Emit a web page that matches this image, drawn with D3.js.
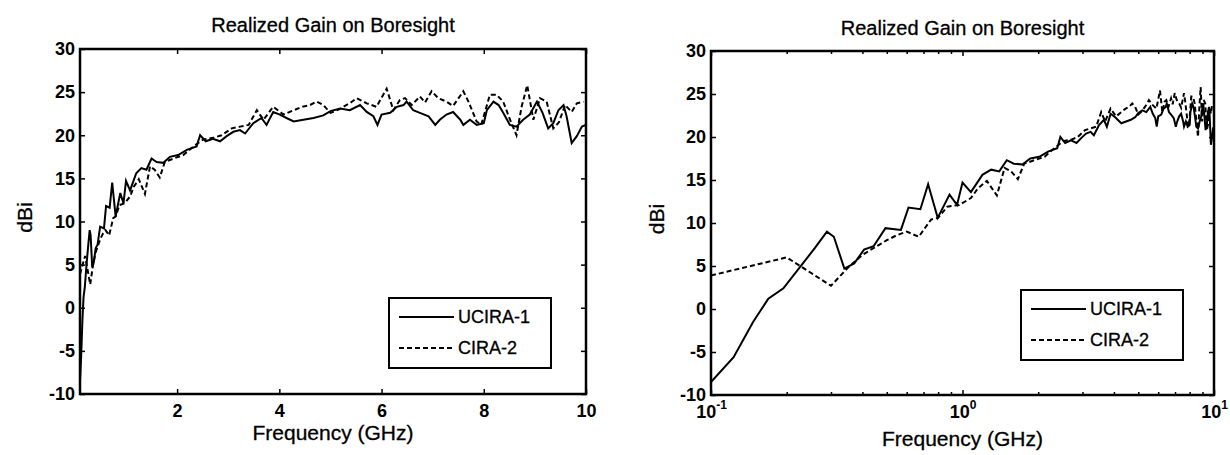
<!DOCTYPE html>
<html>
<head>
<meta charset="utf-8">
<script src="https://cdn.jsdelivr.net/npm/d3@7"></script>
<style>
    body { margin: 0; background: #fff; }
    svg { display: block; }
    text { font-family: "Liberation Sans", Arial, Helvetica, sans-serif; fill: #000; stroke: #000; stroke-width: 0.3px; }
    .tick text { font-size: 18px; font-weight: bold; stroke-width: 0; }
    .tick line { stroke: #000; stroke-width: 1.5; }
</style>
</head>
<body>
<div id="graph"></div>
<script>
// UCIRA-1 (solid)
const freqUcira = [0.1, 0.123, 0.147, 0.169, 0.194, 0.229, 0.259, 0.289, 0.308, 0.339, 0.371, 0.406, 0.443, 0.494, 0.569,
    0.61, 0.68, 0.73, 0.797, 0.888, 0.951, 1.0, 1.08, 1.2, 1.3, 1.4, 1.5, 1.6, 1.73, 1.86, 2.02, 2.19, 2.38, 2.45, 2.56,
    2.7, 2.84, 2.97, 3.1, 3.23, 3.33, 3.49, 3.65, 3.75, 3.88, 4.01, 4.14, 4.28, 4.47, 4.67, 4.86, 5.0, 5.19, 5.38, 5.58,
    5.71, 5.84, 5.92, 6.0, 6.17, 6.3, 6.43, 6.49, 6.62, 6.75, 6.92, 7.05, 7.14, 7.27, 7.4, 7.54, 7.6, 7.73, 7.86, 8.0,
    8.06, 8.19, 8.29, 8.38, 8.51, 8.64, 8.77, 8.9, 9.04, 9.15, 9.26, 9.36, 9.46, 9.56, 9.62, 9.72, 9.82, 9.92, 10.0];
const gainUcira = [-8.5, -5.6, -1.5, 1.2, 2.4, 5.1, 7.1, 9.0, 8.4, 4.7, 5.3, 6.9, 7.3, 9.4, 9.2,
    11.8, 11.6, 14.5, 10.6, 13.3, 12.1, 14.7, 13.6, 15.6, 16.2, 16.0, 17.3, 16.9, 16.8, 17.5, 17.7, 18.3, 18.7, 20.0, 19.3,
    19.6, 19.3, 19.9, 20.4, 20.6, 20.2, 21.4, 22.0, 21.2, 22.7, 22.4, 22.0, 21.6, 21.8, 22.0, 22.3, 22.8, 23.1, 22.9, 23.5,
    22.7, 22.2, 21.2, 22.4, 22.6, 23.3, 23.5, 23.9, 22.9, 22.6, 22.2, 21.2, 21.8, 22.4, 22.7, 21.8, 21.2, 21.8, 21.2, 21.4,
    22.9, 23.9, 23.5, 22.6, 21.2, 21.0, 21.8, 22.4, 23.9, 22.6, 20.8, 21.4, 22.9, 23.5, 22.2, 19.1, 19.9, 21.0, 21.2];

// CIRA-2 (dashed)
const freqCira = [0.1, 0.2, 0.3, 0.35, 0.4, 0.45, 0.5, 0.55, 0.6, 0.67, 0.75, 0.8, 0.87, 0.97, 1.08, 1.15, 1.25, 1.37,
    1.47, 1.56, 1.66, 1.76, 1.93, 2.12, 2.32, 2.51, 2.71, 2.87, 3.07, 3.23, 3.4, 3.56, 3.69, 3.88, 4.08, 4.28, 4.45, 4.6,
    4.73, 4.86, 5.0, 5.17, 5.4, 5.51, 5.71, 5.9, 6.1, 6.23, 6.36, 6.46, 6.59, 6.75, 6.85, 6.98, 7.11, 7.27, 7.4, 7.6, 7.7,
    7.86, 7.95, 8.12, 8.25, 8.38, 8.5, 8.64, 8.74, 8.85, 8.97, 9.1, 9.23, 9.36, 9.47, 9.59, 9.72, 9.82, 9.95];
const gainCira = [3.9, 6.0, 2.7, 4.8, 6.3, 7.2, 8.0, 8.6, 9.0, 8.4, 10.4, 10.6, 11.9, 12.1, 12.9, 14.0, 14.9, 13.2,
    16.4, 16.0, 15.1, 16.9, 17.3, 17.7, 18.7, 19.5, 19.7, 20.0, 20.8, 21.0, 21.2, 22.9, 21.8, 23.3, 22.4, 22.9, 23.3, 23.5,
    23.9, 23.5, 22.6, 23.0, 23.8, 24.3, 23.7, 23.3, 25.4, 22.9, 24.1, 24.3, 23.5, 24.5, 23.8, 25.1, 24.3, 23.9, 23.4, 25.1, 23.9,
    21.6, 21.2, 24.7, 24.7, 23.9, 22.0, 20.0, 23.3, 25.8, 21.8, 24.3, 23.9, 20.8, 21.5, 23.5, 22.7, 23.7, 23.9];

const seriesNames = ["UCIRA-1", "CIRA-2"];
const yTicks = [-10, -5, 0, 5, 10, 15, 20, 25, 30];
const xTicksLin = [2, 4, 6, 8, 10];
const xTicksLog = [0.1, 1, 10];
const xMinorLog = [0.2, 0.3, 0.4, 0.5, 0.6, 0.7, 0.8, 0.9, 2, 3, 4, 5, 6, 7, 8, 9];

let CANVAS_WIDTH = 1230,
    CANVAS_HEIGHT = 455,
    TICK_LEN = 5,
    DASH = "5,3";

let vis = d3.select("#graph").append("svg")
    .attr("width", CANVAS_WIDTH)
    .attr("height", CANVAS_HEIGHT);

let series = [
    {name: seriesNames[0], pts: freqUcira.map((f, i) => [f, gainUcira[i]]), dash: null},
    {name: seriesNames[1], pts: freqCira.map((f, i) => [f, gainCira[i]]), dash: DASH}
];

// plain hyphen for negatives, like the original
const fmtInt = d => String(d);

function drawPanel(p) {
    let g = vis.append("g").attr("transform", `translate(${p.left},${p.top})`);

    let x = p.log
        ? d3.scaleLog().domain([0.1, 10]).range([0, p.w])
        : d3.scaleLinear().domain([0.1, 10]).range([0, p.w]);
    let y = d3.scaleLinear().domain([-10, 30]).range([p.h, 0]);

    g.append("clipPath").attr("id", "clip" + p.id)
        .append("rect").attr("width", p.w).attr("height", p.h);

    // axes, ticks inside on all four sides
    g.append("g").call(d3.axisLeft(y).tickValues(yTicks).tickSize(-TICK_LEN).tickPadding(5).tickFormat(fmtInt));
    g.append("g").attr("transform", `translate(${p.w},0)`)
        .call(d3.axisRight(y).tickValues(yTicks).tickSize(-TICK_LEN).tickFormat(""));
    let xb = g.append("g").attr("transform", `translate(0,${p.h})`)
        .call(d3.axisBottom(x).tickValues(p.log ? xTicksLog : xTicksLin).tickSize(-TICK_LEN).tickPadding(10)
            .tickFormat(p.log ? (d => "10") : fmtInt));
    g.append("g")
        .call(d3.axisTop(x).tickValues(p.log ? xTicksLog : xTicksLin).tickSize(-TICK_LEN).tickFormat(""));
    if (p.log) {
        g.append("g").attr("transform", `translate(0,${p.h})`)
            .call(d3.axisBottom(x).tickValues(xMinorLog).tickSize(-3).tickFormat(""));
        g.append("g")
            .call(d3.axisTop(x).tickValues(xMinorLog).tickSize(-3).tickFormat(""));
        xb.selectAll(".tick text").each(function (d) {
            d3.select(this).append("tspan")
                .attr("dy", "-0.7em")
                .attr("font-size", "12px")
                .text(Math.round(Math.log10(d)));
        });
    }
    g.selectAll(".domain").remove();

    // the lines
    let line = d3.line().x(d => x(d[0])).y(d => y(d[1]));
    g.append("g").attr("clip-path", `url(#clip${p.id})`)
        .selectAll("path")
        .data(series)
        .join("path")
        .attr("d", d => line(d.pts))
        .attr("fill", "none")
        .attr("stroke", "#000")
        .attr("stroke-width", 2)
        .attr("stroke-dasharray", d => d.dash);

    // box
    g.append("rect")
        .attr("width", p.w).attr("height", p.h)
        .attr("fill", "none").attr("stroke", "#000").attr("stroke-width", 2.5);

    // legend
    let lg = g.append("g").attr("transform", `translate(${p.legX},${p.legY})`);
    lg.append("rect").attr("width", 162).attr("height", 70)
        .attr("fill", "#fff").attr("stroke", "#000").attr("stroke-width", 2);
    lg.selectAll("line.leg")
        .data(series)
        .join("line")
        .attr("x1", 10).attr("x2", 65)
        .attr("y1", (d, i) => 19 + i * 31).attr("y2", (d, i) => 19 + i * 31)
        .attr("stroke", "#000").attr("stroke-width", 2)
        .attr("stroke-dasharray", d => d.dash);
    lg.selectAll("text")
        .data(series)
        .join("text")
        .attr("x", 69)
        .attr("y", (d, i) => 19 + i * 31)
        .attr("dy", "0.36em")
        .attr("font-size", "18px")
        .text(d => d.name);

    // titles
    g.append("text")
        .attr("x", p.w / 2).attr("y", p.titleY)
        .attr("text-anchor", "middle")
        .attr("dy", "0.35em")
        .attr("font-size", "20px")
        .text("Realized Gain on Boresight");
    g.append("text")
        .attr("x", p.w / 2).attr("y", p.xLabY)
        .attr("text-anchor", "middle")
        .attr("dy", "0.35em")
        .attr("font-size", "21px")
        .text("Frequency (GHz)");
    g.append("text")
        .attr("transform", `translate(${p.yLabX},${p.h / 2 - 4}) rotate(-90)`)
        .attr("text-anchor", "middle")
        .attr("dy", "0.35em")
        .attr("font-size", "21px")
        .text("dBi");
}

drawPanel({id: 0, left: 80, top: 49, w: 506, h: 345, log: false, legX: 309, legY: 249, titleY: -24, xLabY: 384, yLabX: -55});
drawPanel({id: 1, left: 711, top: 51, w: 503, h: 344, log: true, legX: 310, legY: 239, titleY: -23, xLabY: 388, yLabX: -54});
</script>
</body>
</html>
